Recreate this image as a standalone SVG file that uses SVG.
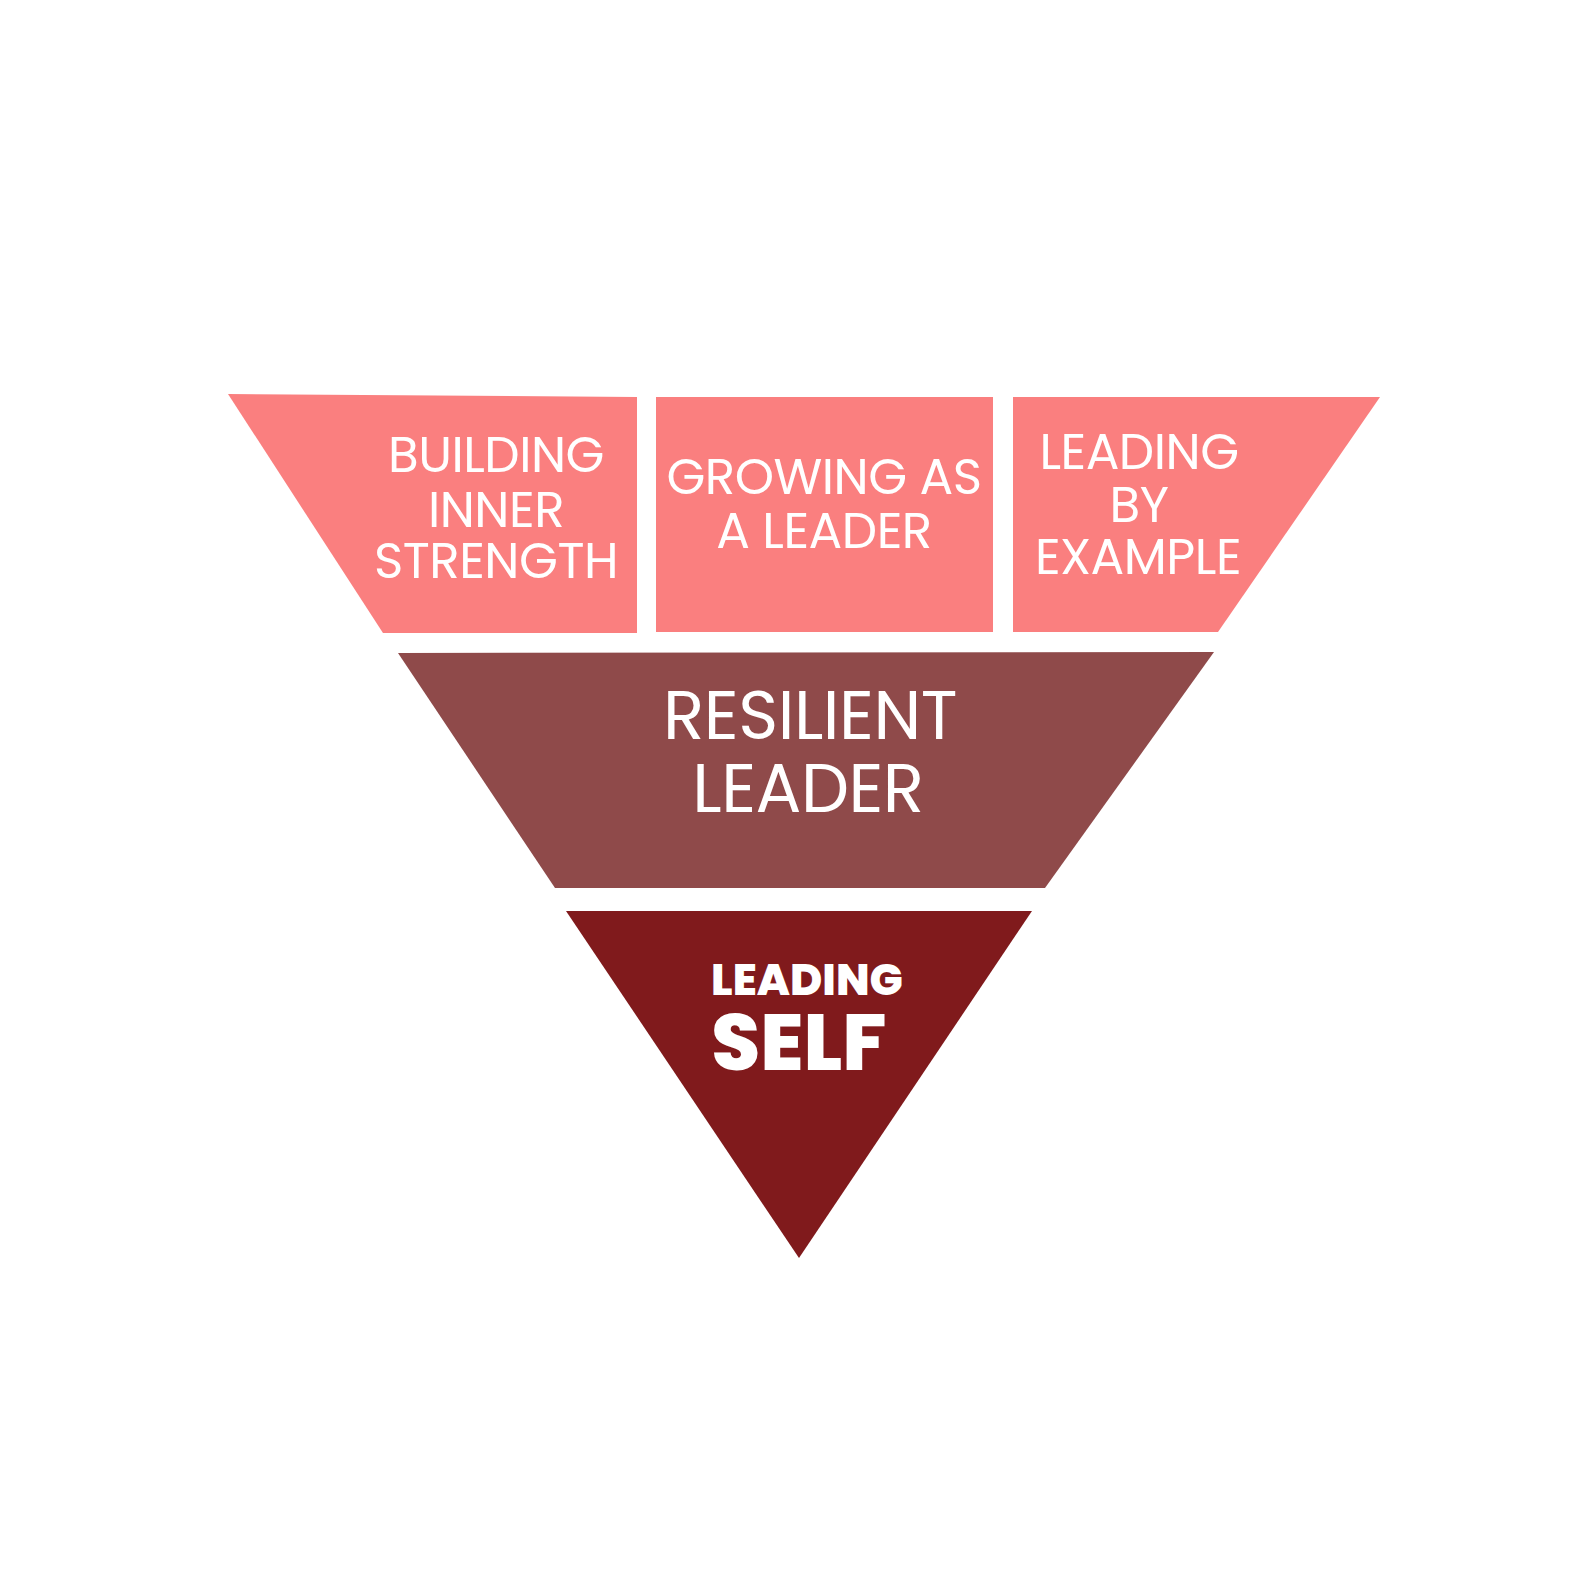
<svg xmlns="http://www.w3.org/2000/svg" width="1590" height="1590" viewBox="0 0 1590 1590">
<style>
.t{font-family:Poppins,Inter,"Open Sans",sans-serif;fill:#ffffff;text-anchor:middle}
.top{fill:#FA7F7F}
.mid{fill:#8F4A4A}
.bot{fill:#801A1C}
.s48{font-size:50px;font-weight:400;letter-spacing:-0.5px}
.s66{font-size:68px;font-weight:400;letter-spacing:-0.5px}
</style>
<rect width="1590" height="1590" fill="#ffffff"/>
<g id="building-inner-strength">
<polygon class="top" points="228,394 637,397 637,633 383,633"/>
<text class="t s48" x="496" y="472">BUILDING</text>
<text class="t s48" x="496" y="527">INNER</text>
<text class="t s48" x="496" y="578">STRENGTH</text>
</g>
<g id="growing-as-a-leader">
<rect class="top" x="656" y="397" width="337" height="235"/>
<text class="t s48" x="824" y="494">GROWING AS</text>
<text class="t s48" x="824" y="548">A LEADER</text>
</g>
<g id="leading-by-example">
<polygon class="top" points="1013,397 1380,397 1218,632 1013,632"/>
<text class="t s48" x="1139" y="469">LEADING</text>
<text class="t s48" x="1139" y="522">BY</text>
<text class="t s48" x="1138" y="574">EXAMPLE</text>
</g>
<g id="resilient-leader">
<polygon class="mid" points="398,653 1214,652 1045,888 555,888"/>
<text class="t s66" x="810" y="739">RESILIENT</text>
<text class="t s66" x="808" y="812">LEADER</text>
</g>
<g id="leading-self">
<polygon class="bot" points="566,911 1032,911 799,1258"/>
<text class="t" x="807" y="995" style="font-size:44px;font-weight:800">LEADING</text>
<text class="t" x="799" y="1070" style="font-size:79px;font-weight:800">SELF</text>
</g>
</svg>
